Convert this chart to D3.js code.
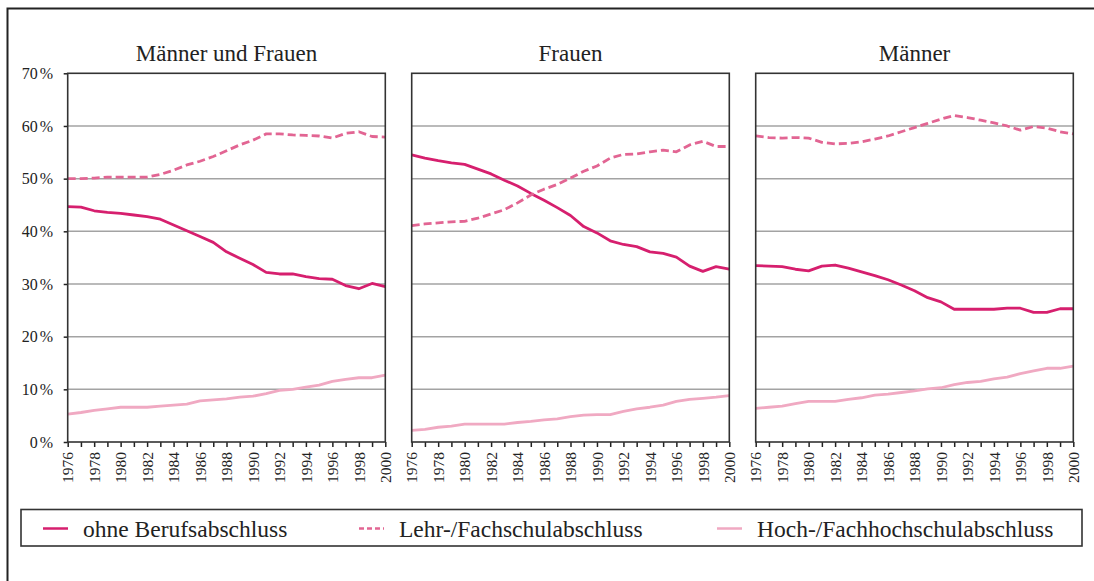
<!DOCTYPE html>
<html>
<head>
<meta charset="utf-8">
<script src="https://d3js.org/d3.v7.min.js"></script>
<style>
  body { margin: 0; background: #fff; }
  text { font-family: "Liberation Serif", "Times New Roman", serif; fill: #222; }
</style>
</head>
<body>
<svg id="chart" width="1094" height="581"></svg>
<script>
// data (percent)
const years = [1976,1977,1978,1979,1980,1981,1982,1983,1984,1985,1986,1987,1988,
               1989,1990,1991,1992,1993,1994,1995,1996,1997,1998,1999,2000]
const panelTitles = ["Männer und Frauen", "Frauen", "Männer"]
const seriesNames = ["ohne Berufsabschluss", "Lehr-/Fachschulabschluss", "Hoch-/Fachhochschulabschluss"]
const yTicks = [0, 10, 20, 30, 40, 50, 60, 70]

const allOhne = [44.7,44.6,43.9,43.6,43.4,43.1,42.8,42.3,41.2,40.1,39.0,37.9,36.1,34.9,33.7,32.2,31.9,31.9,31.4,31.0,30.9,29.7,29.1,30.1,29.5]
const allLehr = [50.0,50.0,50.1,50.3,50.3,50.3,50.3,50.8,51.6,52.6,53.3,54.2,55.3,56.4,57.3,58.5,58.5,58.3,58.2,58.1,57.7,58.6,58.9,58.0,57.9]
const allHoch = [5.3,5.6,6.0,6.3,6.6,6.6,6.6,6.8,7.0,7.2,7.8,8.0,8.2,8.5,8.7,9.2,9.8,10.0,10.4,10.8,11.5,11.9,12.2,12.2,12.7]

const frauenOhne = [54.5,53.9,53.4,53.0,52.7,51.8,50.9,49.7,48.6,47.2,45.9,44.5,43.0,40.9,39.7,38.2,37.5,37.1,36.1,35.8,35.1,33.4,32.4,33.3,32.8]
const frauenLehr = [41.1,41.4,41.6,41.8,41.9,42.5,43.3,44.1,45.4,46.9,48.0,48.9,50.1,51.4,52.4,53.9,54.6,54.7,55.1,55.4,55.1,56.4,57.1,56.1,56.1]
const frauenHoch = [2.2,2.4,2.8,3.0,3.4,3.4,3.4,3.4,3.7,3.9,4.2,4.4,4.8,5.1,5.2,5.2,5.8,6.3,6.6,7.0,7.7,8.1,8.3,8.5,8.8]

const maennerOhne = [33.5,33.4,33.3,32.8,32.5,33.4,33.6,33.0,32.3,31.6,30.8,29.8,28.7,27.4,26.6,25.2,25.2,25.2,25.2,25.4,25.4,24.6,24.6,25.3,25.3]
const maennerLehr = [58.1,57.8,57.7,57.8,57.7,56.9,56.6,56.7,57.0,57.5,58.1,58.9,59.7,60.5,61.3,62.0,61.6,61.1,60.6,60.0,59.2,59.9,59.6,58.9,58.5]
const maennerHoch = [6.4,6.6,6.8,7.3,7.7,7.7,7.7,8.1,8.4,8.9,9.1,9.4,9.7,10.1,10.3,10.9,11.3,11.5,12.0,12.3,13.0,13.5,14.0,14.0,14.4]

const panelData = [
  [allOhne, allLehr, allHoch],
  [frauenOhne, frauenLehr, frauenHoch],
  [maennerOhne, maennerLehr, maennerHoch]
]

const colors = ["#d61f6e", "#e26593", "#f0a9c2"]
const dashes = [null, "8,4", null]

const svg = d3.select("#chart")

// outer frame (only top and left edges are visible)
svg.append("path")
  .attr("d", "M7.5,581V8.5H1094")
  .attr("fill", "none").attr("stroke", "#222").attr("stroke-width", 2)

const panelLeft = [67.7, 411.7, 755.7]
const pw = 317.6, panelTop = 73.3, ph = 368.7

const x = d3.scaleLinear().domain([1976, 2000]).range([0, pw])
const y = d3.scaleLinear().domain([0, 70]).range([ph, 0])

panelTitles.forEach((title, i) => {
  const g = svg.append("g").attr("transform", `translate(${panelLeft[i]},${panelTop})`)

  g.append("text")
    .attr("x", pw / 2).attr("y", -12.5)
    .attr("text-anchor", "middle")
    .attr("font-size", 23)
    .text(title)

  // gridlines
  g.selectAll("line.grid").data(yTicks.filter(d => d > 0 && d < 70)).enter()
    .append("line")
    .attr("x1", 0).attr("x2", pw)
    .attr("y1", d => y(d)).attr("y2", d => y(d))
    .attr("stroke", "#a3a3a3").attr("stroke-width", 1.5)

  // x axis
  const xAxis = d3.axisBottom(x)
    .tickValues(years)
    .tickSize(5)
    .tickFormat(d => d % 2 === 0 ? d : "")
  const xg = g.append("g").attr("transform", `translate(0,${ph})`).call(xAxis)
  xg.select(".domain").remove()
  xg.selectAll(".tick line").attr("stroke", "#222").attr("stroke-width", 1.5)
  xg.selectAll(".tick text")
    .attr("font-size", 15.5)
    .attr("fill", "#222")
    .attr("transform", "rotate(-90)")
    .attr("text-anchor", "end")
    .attr("x", -10).attr("y", 0).attr("dy", "0.34em")

  if (i === 0) {
    const yAxis = d3.axisLeft(y)
      .tickValues(yTicks)
      .tickSize(4)
      .tickPadding(10.5)
      .tickFormat(d => d)
    const yg = g.append("g").call(yAxis)
    yg.select(".domain").remove()
    yg.selectAll(".tick line").attr("stroke", "#222").attr("stroke-width", 1.5)
    yg.selectAll(".tick text")
      .attr("font-size", 16)
      .attr("fill", "#222")
      .append("tspan").attr("dx", 2).text("%")
  }

  // lines
  const line = d3.line().x((d, j) => x(years[j])).y(d => y(d))
  panelData[i].forEach((vals, k) => {
    g.append("path")
      .datum(vals)
      .attr("d", line)
      .attr("fill", "none")
      .attr("stroke", colors[k])
      .attr("stroke-width", 2.8)
      .attr("stroke-dasharray", dashes[k])
      .attr("stroke-linejoin", "round")
  })

  // frame
  g.append("rect")
    .attr("width", pw).attr("height", ph)
    .attr("fill", "none").attr("stroke", "#333").attr("stroke-width", 1.6)
})

// legend
const lg = svg.append("g")
lg.append("rect")
  .attr("x", 21).attr("y", 509.5).attr("width", 1061).attr("height", 36.5)
  .attr("fill", "#fff").attr("stroke", "#333").attr("stroke-width", 1.6)

const legendX = [43, 359, 717]
seriesNames.forEach((name, k) => {
  lg.append("line")
    .attr("x1", legendX[k]).attr("x2", legendX[k] + 25)
    .attr("y1", 528.5).attr("y2", 528.5)
    .attr("stroke", colors[k]).attr("stroke-width", 2.5)
    .attr("stroke-dasharray", k === 1 ? "5,3" : null)
  lg.append("text")
    .attr("x", legendX[k] + 40).attr("y", 536.5)
    .attr("font-size", 23.5)
    .text(name)
})
</script>
</body>
</html>
